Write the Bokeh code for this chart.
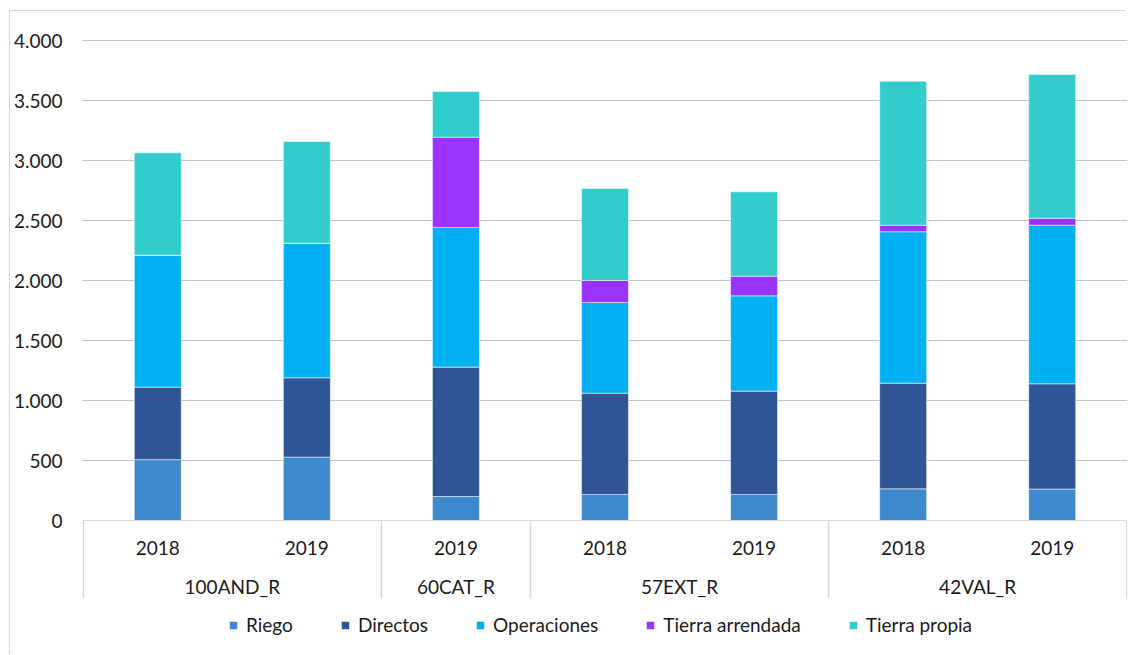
from bokeh.plotting import figure
from bokeh.models import Range1d, FixedTicker, Legend, LegendItem, ColumnDataSource
from bokeh.core.properties import value
from bokeh.embed import file_html
from bokeh.resources import INLINE

# ---------------- data ----------------
groups = ["100AND_R", "100AND_R", "60CAT_R", "57EXT_R", "57EXT_R", "42VAL_R", "42VAL_R"]
years = ["2018", "2019", "2019", "2018", "2019", "2018", "2019"]

riego = [507, 528, 200, 217, 217, 264, 262]
directos = [604, 661, 1078, 844, 861, 880, 877]
operaciones = [1100, 1122, 1164, 756, 794, 1262, 1322]
tierra_arrendada = [0, 0, 752, 183, 164, 55, 58]
tierra_propia = [853, 847, 381, 767, 703, 1200, 1198]

series_names = ["Riego", "Directos", "Operaciones", "Tierra arrendada", "Tierra propia"]
y_ticks = [0, 500, 1000, 1500, 2000, 2500, 3000, 3500, 4000]

# ---------------- styles ----------------
colors = ["#3E89CD", "#2F5597", "#00B0F0", "#9933FF", "#33CCCC"]
FONT = "Lato"
TEXT_COLOR = "#1a1a1a"
FS = "19px"

n = len(years)
xs = [i + 0.5 for i in range(n)]
keys = ["riego", "directos", "operaciones", "tierra_arrendada", "tierra_propia"]
source = ColumnDataSource(dict(x=xs, riego=riego, directos=directos,
                               operaciones=operaciones,
                               tierra_arrendada=tierra_arrendada,
                               tierra_propia=tierra_propia))

W, H = 1117, 644
MB_TOP, MB_LEFT = 28, 70
px_per_unit = 0.12
y_top = y_ticks[-1] + 1 / px_per_unit
y_bottom = y_top - (H - MB_TOP) / px_per_unit

p = figure(width=W, height=H, output_backend="svg", toolbar_location=None,
           x_range=Range1d(-0.005, n + 0.005), y_range=Range1d(y_bottom, y_top),
           x_axis_location=None, min_border_left=MB_LEFT, min_border_right=0,
           min_border_top=MB_TOP, min_border_bottom=0)
p.margin = (11, 0, 0, 10)
p.styles = {"box-shadow": "-1px -1px 0 0 #D9D9D9"}
p.outline_line_color = None
p.background_fill_color = "white"
p.border_fill_color = "white"
p.xgrid.visible = False

p.yaxis.ticker = FixedTicker(ticks=y_ticks)
p.yaxis.major_label_overrides = {t: f"{t:,}".replace(",", ".") for t in y_ticks}
p.yaxis.axis_line_color = None
p.yaxis.major_tick_line_color = None
p.yaxis.minor_tick_line_color = None
p.yaxis.major_tick_in = 0
p.yaxis.major_tick_out = 0
p.yaxis.major_label_standoff = 20
p.yaxis.major_label_text_font = FONT
p.yaxis.major_label_text_font_size = FS
p.yaxis.major_label_text_color = TEXT_COLOR

p.ygrid.ticker = FixedTicker(ticks=y_ticks[1:])
p.ygrid.grid_line_color = "#C4C4C4"
p.ygrid.grid_line_width = 1

renderers = p.vbar_stack(keys, x="x", width=0.315, color=colors, source=source,
                         line_color="white", line_alpha=0.5, line_width=1)

# ---------------- category table ----------------
bounds = [0]
for i in range(1, n):
    if groups[i] != groups[i - 1]:
        bounds.append(i)
bounds.append(n)

table_bottom = -78 / px_per_unit
p.segment(x0=[0], y0=[0], x1=[n], y1=[0], line_color="#D9D9D9", line_width=1.2)
p.segment(x0=bounds, y0=[0] * len(bounds), x1=bounds, y1=[table_bottom] * len(bounds),
          line_color="#D9D9D9", line_width=1.5)

p.text(x=xs, y=[-27 / px_per_unit] * n, text=years, text_align="center",
       text_baseline="middle", text_font=value(FONT), text_font_size=FS,
       text_color=TEXT_COLOR)

uniq = []
for g in groups:
    if g not in uniq:
        uniq.append(g)
gx = [sum(x for x, gg in zip(xs, groups) if gg == g) / groups.count(g) for g in uniq]
p.text(x=gx, y=[-66 / px_per_unit] * len(uniq), text=uniq, text_align="center",
       text_baseline="middle", text_font=value(FONT), text_font_size=FS,
       text_color=TEXT_COLOR)

legend = Legend(items=[LegendItem(label=nm, renderers=[r]) for nm, r in zip(series_names, renderers)],
                orientation="horizontal", location=(146, 19),
                glyph_width=10, glyph_height=10, label_standoff=8, spacing=47,
                padding=0, margin=0, border_line_color=None, background_fill_alpha=0,
                label_text_font=FONT, label_text_font_size=FS, label_text_color=TEXT_COLOR)
p.add_layout(legend, "center")

open("out.html", "w").write(file_html(p, INLINE))
